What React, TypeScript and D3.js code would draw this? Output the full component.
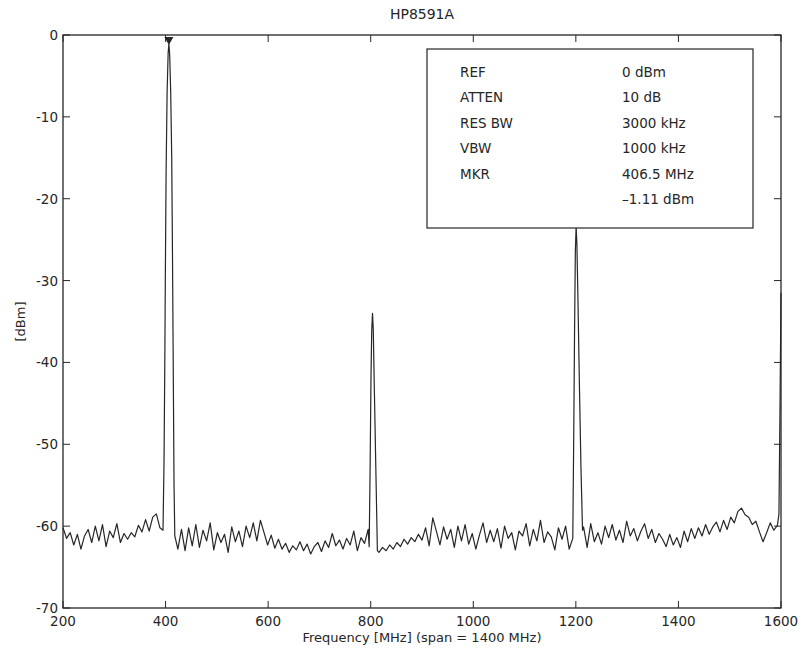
import React from "react";
import * as d3 from "d3";

// ---- data ----
const FLOOR_START_MHZ = 200;
const FLOOR_STEP_MHZ = 7;
const floorLevels = [
  -60.2, -61.5, -60.8, -62.3, -61.0, -62.8, -61.2, -60.4, -62.0, -60.0,
  -61.8, -59.8, -62.5, -60.6, -61.4, -59.7, -62.0, -60.9, -61.6, -60.8,
  -61.3, -59.9, -60.7, -59.2, -60.6, -58.9, -58.5, -60.2, -61.4, -60.0,
  -61.0, -61.0, -62.8, -60.4, -63.0, -60.2, -62.4, -59.8, -62.6, -60.5,
  -61.8, -59.6, -62.9, -60.8, -62.0, -61.0, -63.2, -60.1, -61.9, -60.6,
  -62.5, -60.0, -61.4, -59.6, -61.8, -59.3, -60.8, -62.3, -61.1, -62.7,
  -61.6, -62.8, -62.1, -63.2, -62.4, -62.9, -61.9, -63.0, -62.2, -63.4,
  -62.5, -62.0, -63.1, -61.8, -62.6, -60.9, -62.4, -61.7, -62.8, -61.5,
  -62.3, -60.6, -63.0, -61.4, -62.1, -60.4, -62.9, -62.0, -63.2, -62.6,
  -63.0, -62.3, -62.8, -62.0, -62.5, -61.6, -62.2, -61.4, -61.9, -61.0,
  -61.7, -60.2, -62.4, -59.0, -60.6, -62.3, -60.1, -61.6, -60.4, -62.6,
  -60.0, -61.8, -59.8, -62.2, -60.9, -62.8, -61.1, -59.6, -62.0, -60.5,
  -61.9, -60.3, -62.7, -60.0, -61.5, -60.8, -62.9, -60.6, -61.2, -59.7,
  -62.4, -60.4, -61.8, -59.3, -62.0, -60.7, -61.3, -62.9, -60.2, -61.6,
  -60.0, -62.8, -61.0, -61.0, -61.0, -60.1, -62.6, -59.7, -61.9, -60.8,
  -62.2, -60.0, -61.4, -59.8, -61.7, -60.5, -62.0, -59.4, -61.2, -60.3,
  -61.8, -60.6, -59.7, -61.5, -60.4, -62.0, -60.9, -61.6, -62.5, -61.0,
  -62.3, -61.4, -62.6, -60.6, -61.9, -60.3, -61.5, -60.2, -61.2, -59.8,
  -61.0, -60.1, -59.5, -60.7, -59.3, -60.4, -58.9, -59.6, -58.2, -57.8,
  -58.6, -58.9, -59.8, -59.4, -60.7, -61.9, -60.8, -59.6, -60.5, -59.9,
];

const peak400: [number, number][] = [
  [395, -60.5], [397, -52], [398.5, -40], [399.5, -30], [401, -17], [403, -7],
  [405, -2.2], [406.5, -1.11], [408, -2.4], [410, -7], [412, -15], [413.5, -27],
  [415, -41], [416.5, -55], [418, -61.2],
];
const peak800: [number, number][] = [
  [797, -62.5], [799, -52], [800.5, -42], [802, -36], [803.5, -34], [805, -36],
  [807, -43], [810, -53], [813, -63],
];
const peak1200: [number, number][] = [
  [1194, -61.5], [1196, -48], [1197.5, -36], [1199, -26.5], [1200.5, -23.4],
  [1202, -25.5], [1204, -32], [1207, -43], [1210, -53], [1213, -60.5],
];
const peak1600: [number, number][] = [
  [1596, -58.5], [1598, -46], [1600, -31.5],
];

const markerFreq = 406.5;
const markerLevel = -1.11;

const xTicks = [200, 400, 600, 800, 1000, 1200, 1400, 1600];
const yTicks = [0, -10, -20, -30, -40, -50, -60, -70];

const legendLabels = ["REF", "ATTEN", "RES BW", "VBW", "MKR", ""];
const legendValues = ["0 dBm", "10 dB", "3000 kHz", "1000 kHz", "406.5 MHz", "\u20131.11 dBm"];

const title = "HP8591A";
const xLabel = "Frequency [MHz] (span = 1400 MHz)";
const yLabel = "[dBm]";

// ---- build trace ----
function buildTrace(): [number, number][] {
  const peaks = [peak400, peak800, peak1200, peak1600];
  const pts: [number, number][] = [];
  floorLevels.forEach((v, i) => {
    const f = FLOOR_START_MHZ + i * FLOOR_STEP_MHZ;
    const inPeak = peaks.some((p) => f >= p[0][0] && f <= p[p.length - 1][0]);
    if (!inPeak) pts.push([f, v]);
  });
  peaks.forEach((p) => p.forEach((d) => pts.push(d)));
  pts.sort((a, b) => a[0] - b[0]);
  return pts;
}

export default function App() {
  const W = 804, H = 654;
  const left = 63, right = 781, top = 35, bottom = 608;
  const x = d3.scaleLinear().domain([200, 1600]).range([left, right]);
  const y = d3.scaleLinear().domain([-70, 0]).range([bottom, top]);
  const trace = buildTrace();
  const line = d3.line<[number, number]>().x((d) => x(d[0])).y((d) => y(d[1]));
  const tickLen = 7;
  const font = "'DejaVu Sans', 'Liberation Sans', sans-serif";
  const ink = "#262626";

  const mx = x(markerFreq), my = y(markerLevel);

  const boxL = 427, boxT = 49, boxR = 753, boxB = 228;

  return (
    <svg width={W} height={H} style={{ position: "absolute", left: 0, top: 0, background: "#fff" }}
      fontFamily={font}>
      <rect x={0} y={0} width={W} height={H} fill="#fff" />
      {/* trace */}
      <path d={line(trace) || ""} fill="none" stroke={ink} strokeWidth={1.2} strokeLinejoin="round" />
      {/* marker */}
      <path d={`M${mx - 4.5},${my - 7}L${mx + 4.5},${my - 7}L${mx},${my + 1}Z`} fill={ink} />
      {/* frame */}
      <rect x={left} y={top} width={right - left} height={bottom - top} fill="none" stroke={ink} strokeWidth={1.3} />
      {/* ticks */}
      {xTicks.map((t) => (
        <g key={"xt" + t}>
          <line x1={x(t)} x2={x(t)} y1={bottom} y2={bottom - tickLen} stroke={ink} />
          <line x1={x(t)} x2={x(t)} y1={top} y2={top + tickLen} stroke={ink} />
          <text x={x(t)} y={bottom + 18} fontSize={13.5} textAnchor="middle" fill={ink}>{t}</text>
        </g>
      ))}
      {yTicks.map((t) => (
        <g key={"yt" + t}>
          <line x1={left} x2={left + tickLen} y1={y(t)} y2={y(t)} stroke={ink} />
          <line x1={right} x2={right - tickLen} y1={y(t)} y2={y(t)} stroke={ink} />
          <text x={left - 5} y={y(t) + 5} fontSize={13.5} textAnchor="end" fill={ink}>{t}</text>
        </g>
      ))}
      {/* legend box */}
      <rect x={boxL} y={boxT} width={boxR - boxL} height={boxB - boxT} fill="#fff" stroke={ink} strokeWidth={1.2} />
      {legendLabels.map((l, i) => (
        <text key={"ll" + i} x={460} y={77 + i * 25.4} fontSize={13.5} fill={ink}>{l}</text>
      ))}
      {legendValues.map((v, i) => (
        <text key={"lv" + i} x={622} y={77 + i * 25.4} fontSize={13.5} fill={ink}>{v}</text>
      ))}
      {/* titles */}
      <text x={(left + right) / 2} y={19} fontSize={14} textAnchor="middle" fill={ink}>{title}</text>
      <text x={(left + right) / 2} y={642} fontSize={13} textAnchor="middle" fill={ink}>{xLabel}</text>
      <text transform={`translate(25,${(top + bottom) / 2}) rotate(-90)`} fontSize={13} textAnchor="middle" fill={ink}>{yLabel}</text>
    </svg>
  );
}
